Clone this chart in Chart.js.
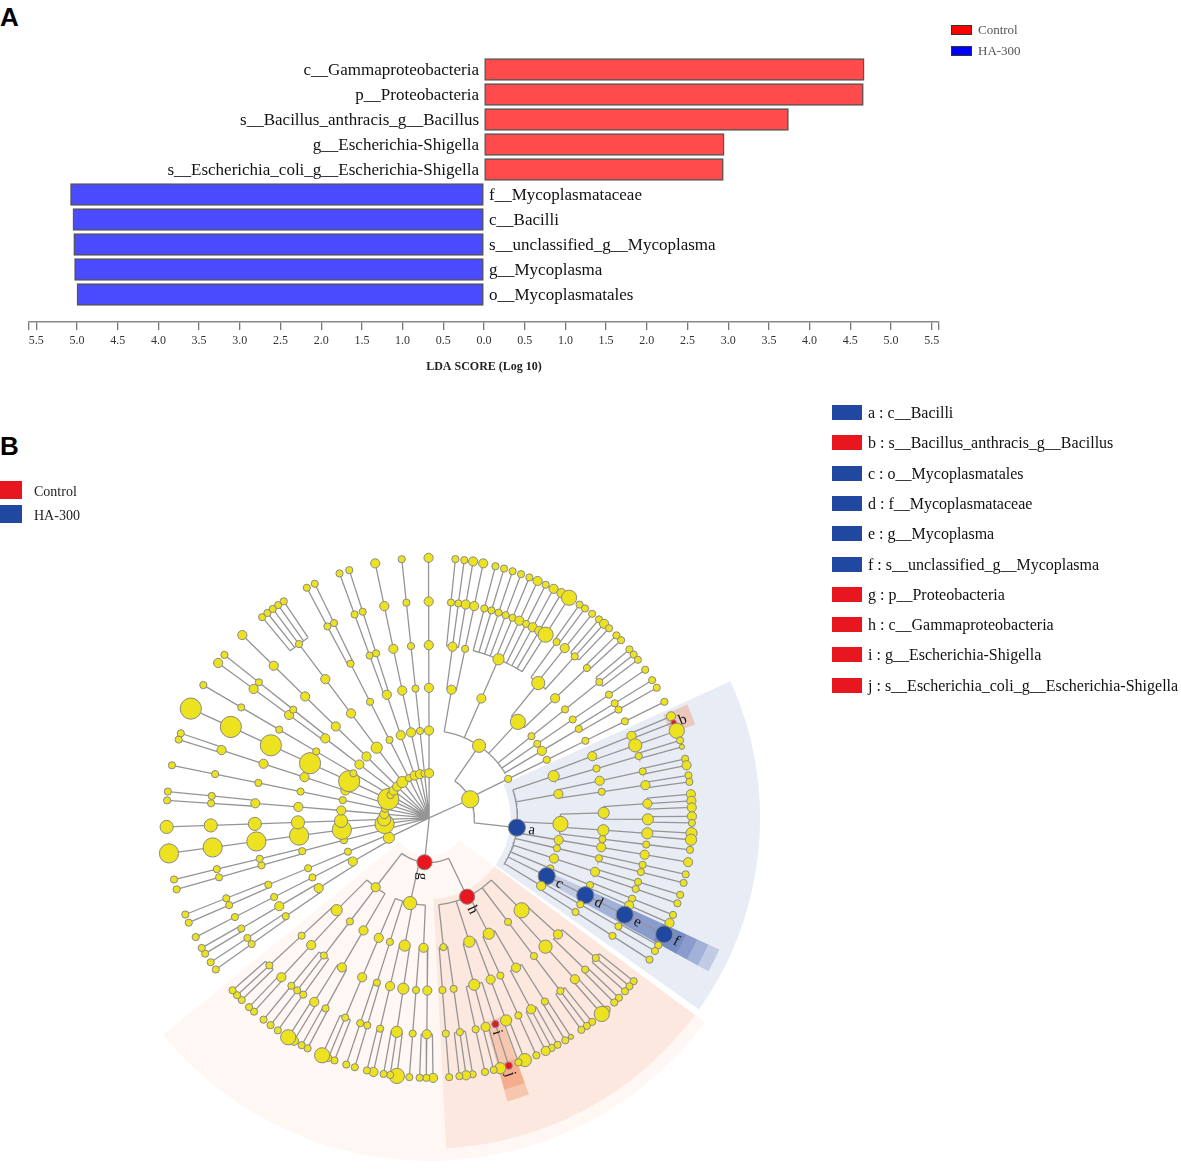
<!DOCTYPE html>
<html>
<head>
<meta charset="utf-8">
<script src="https://cdn.jsdelivr.net/npm/chart.js@4.4.0/dist/chart.umd.min.js"></script>
<style>
  body { margin: 0; background: #fff; width: 1181px; height: 1171px; position: relative; overflow: hidden; font-family: "Liberation Serif", serif; }
  .panel { position: absolute; font: bold 26px "Liberation Sans", Arial, sans-serif; color: #000; }
  .box { position: absolute; }
  .lgA { position: absolute; font-size: 13px; color: #555; display: flex; align-items: center; }
  .lgA span { display: inline-block; width: 19px; height: 8px; border: 1px solid #333; margin-right: 6px; }
  .lgB { position: absolute; font-size: 14px; color: #222; }
  .lgB span { position: absolute; left: 0; width: 22px; height: 18px; }
  .mk { position: absolute; left: 832px; font-size: 16px; color: #111; white-space: nowrap; height: 16px; line-height: 16px; }
  .mk span { display: inline-block; width: 30px; height: 15px; vertical-align: -2px; margin-right: 6px; }
</style>
</head>
<body>
<div class="panel" style="left:0;top:2px">A</div>
<div class="panel" style="left:0;top:431px">B</div>

<div class="box" style="left:0;top:0;width:1181px;height:390px"><canvas id="lda"></canvas></div>
<div class="box" style="left:0;top:390px;width:1181px;height:781px"><canvas id="clado"></canvas></div>

<div id="legendA"></div>
<div id="legendB"></div>
<div id="markers"></div>

<script>
// ---- panel A data (LDA scores) ----
const ldaLabels = ['c__Gammaproteobacteria', 'p__Proteobacteria', 's__Bacillus_anthracis_g__Bacillus',
  'g__Escherichia-Shigella', 's__Escherichia_coli_g__Escherichia-Shigella', 'f__Mycoplasmataceae',
  'c__Bacilli', 's__unclassified_g__Mycoplasma', 'g__Mycoplasma', 'o__Mycoplasmatales'];
const ldaScores = [4.67, 4.66, 3.74, 2.95, 2.94, 5.08, 5.05, 5.04, 5.03, 5.00];
const ldaGroups = ['Control', 'Control', 'Control', 'Control', 'Control', 'HA-300', 'HA-300', 'HA-300', 'HA-300', 'HA-300'];
const ldaTicks = [-5.5, -5.0, -4.5, -4.0, -3.5, -3.0, -2.5, -2.0, -1.5, -1.0, -0.5, 0.0,
  0.5, 1.0, 1.5, 2.0, 2.5, 3.0, 3.5, 4.0, 4.5, 5.0, 5.5];
const groups = ['Control', 'HA-300'];
const barColors = { 'Control': '#ff4b4b', 'HA-300': '#4a4aff' };
const legendColors = { 'Control': '#ff0000', 'HA-300': '#0000ff' };

// ---- panel B data (cladogram) ----
// clade notation: size digit, optional {tag}, optional (children); leaves run on to species level
const phyla = [
  `7( 5( 3(3(2,2,3),2(3)), 3(4(2,2,2,2,2,3,2,3,3,6)), 6(5(2(2,2),3(2),2(2,3,2)),3(2(2,2))), 2(2(2(2,2,2))), 2(2), 3(2(2,2)) ),
     2,
     7{a}( 4(3(3(3,1{b}),5(6)),2(2(2,1))), 3(3(2(2,3)),2(3(2,2))), 6(4(3(3,3,3),4(3,2)),4(4(4,4)),2(2)),
           3, 2(2(2,2)), 3(3(2,2)), 2(2(2,3)), 7{c}(7{d}(7{e}(7{f}))), 3(2(2(2,2)),2(2)) ) )`,
  `6{g}( 6{h}( 6(3(2(2,2,2),2(2,2)),5(3(2,6))), 2(2(2(2,2,2))), 4(3(2(1,2),3(2,2,3)),2(2)),
               4(3(4(5,2)),4(2{i}(2{j}),3(4,2),2(2))), 2(2(2(2,3,2)),2(2)) ),
         5( 3(3(3(3,2,2)),2(2)), 4(4(4(6,2,2)),3(2(3,2))), 2(2(2,2)), 3(3(2(2,2,6))) ),
         3( 3(3(2(2,2),3(3,6))), 2(2(2,2,2)), 4(3(3(2,2)),2(2(2,2,2))) ) )`,
  `4(3(3(2(2,2),3(2(2,2))),2(2)),2(2(2(2,2))))`,
  `2(2(2(2,2)))`,
  `8`,
  `5`,
  `3(3(3(3(2,2))))`,
  `2`,
  `3(3(3(3(3(2,2)))))`,
  `9`,
  `2`,
  `3(3(3(3,2)))`,
  `3`,
  `4(4(3(3(2(2,2,2,2,2)))))`,
  `2(2(2(2(2,2))))`,
  `3(3(3(2,2)))`,
  `3`,
  `2`,
  `3`
];
const markerTags = ['a', 'b', 'c', 'd', 'e', 'f', 'g', 'h', 'i', 'j'];
const markerNames = ['c__Bacilli', 's__Bacillus_anthracis_g__Bacillus', 'o__Mycoplasmatales', 'f__Mycoplasmataceae',
  'g__Mycoplasma', 's__unclassified_g__Mycoplasma', 'p__Proteobacteria', 'c__Gammaproteobacteria',
  'g__Escherichia-Shigella', 's__Escherichia_coli_g__Escherichia-Shigella'];
const markerGroups = ['HA-300', 'Control', 'HA-300', 'HA-300', 'HA-300', 'HA-300', 'Control', 'Control', 'Control', 'Control'];
const cladeColors = { 'Control': '#e8161f', 'HA-300': '#2148a0' };
const shadeRGB = { 'Control': '235,125,70', 'HA-300': '33,72,160' };

const ringR = [0, 46, 90, 134, 178, 223, 268];
const gapWeight = [3.0, 1.8, 1.4, 1.15, 1.0, 0.75];
const anchorTag = 'f', anchorDeg = 26.6;
const serif = '"Liberation Serif", "Times New Roman", serif';

// ---------------- panel A ----------------
const barLabels = {
  id: 'barLabels',
  afterDatasetsDraw(chart) {
    const ctx = chart.ctx, meta = chart.getDatasetMeta(0);
    const x0 = chart.scales.x.getPixelForValue(0);
    ctx.save();
    ctx.font = '17px ' + serif;
    ctx.fillStyle = '#111';
    ctx.textBaseline = 'middle';
    meta.data.forEach((bar, i) => {
      const left = ldaGroups[i] === 'Control';
      ctx.textAlign = left ? 'right' : 'left';
      ctx.fillText(ldaLabels[i], left ? x0 - 5 : x0 + 5, bar.y + 1);
    });
    ctx.restore();
  }
};

new Chart(document.getElementById('lda'), {
  type: 'bar',
  data: {
    datasets: [{
      data: ldaScores.map((v, i) => ({ y: i, x: ldaGroups[i] === 'Control' ? v : -v })),
      backgroundColor: ldaGroups.map(g => barColors[g]),
      borderColor: '#555',
      borderWidth: 1.5,
      borderSkipped: false,
      barThickness: 22
    }]
  },
  options: {
    indexAxis: 'y',
    responsive: true,
    maintainAspectRatio: false,
    animation: false,
    events: [],
    layout: { padding: { left: 29, right: 242, top: 57, bottom: 8 } },
    plugins: { legend: { display: false }, tooltip: { enabled: false } },
    scales: {
      y: { type: 'linear', display: false, offset: false, min: -0.5, max: 10.1, reverse: true },
      x: {
        type: 'linear', min: -5.59, max: 5.59,
        afterBuildTicks: s => { s.ticks = [-5.59].concat(ldaTicks, [5.59]).map(v => ({ value: v })); },
        afterFit: s => { s.height = 60; },
        ticks: {
          autoSkip: false, maxRotation: 0, padding: 4, color: '#333',
          font: { family: serif, size: 12 },
          callback: v => Math.abs(v) > 5.56 ? '' : Math.abs(v).toFixed(1)
        },
        grid: { drawOnChartArea: false, drawTicks: true, tickLength: 8, color: '#777', lineWidth: 1.3 },
        border: { display: true, color: '#888', width: 1.5 },
        title: {
          display: true, text: 'LDA SCORE (Log 10)', color: '#222',
          font: { family: serif, size: 12, weight: 'bold' }, padding: { top: 4, bottom: 8 }
        }
      }
    }
  },
  plugins: [barLabels]
});

document.getElementById('legendA').innerHTML = groups.map((g, i) =>
  `<div class="lgA" style="left:951px;top:${22 + i * 21}px"><span style="background:${legendColors[g]}"></span>${g}</div>`).join('');

// ---------------- panel B ----------------
function parseClade(src) {
  const s = src.replace(/\s+/g, '');
  let i = 0;
  function node() {
    const n = { size: +s[i++], kids: [] };
    if (s[i] === '{') { n.tag = s[i + 1]; i += 3; }
    if (s[i] === '(') {
      i++;
      n.kids.push(node());
      while (s[i] === ',') { i++; n.kids.push(node()); }
      i++;
    } else if (s[i] === '.') { n.stop = true; i++; }
    return n;
  }
  return node();
}

const root = { size: 0, kids: phyla.map(parseClade) };
(function extend(n, d) {
  n.depth = d;
  if (!n.kids.length && !n.stop && d < 6) n.kids = [{ size: n.size, kids: [] }];
  n.kids.forEach(k => extend(k, d + 1));
})(root, 0);

// leaf angles: spacing grows with the rank at which neighbouring leaves split
const leaves = [];
let lca = 0;
(function walk(n) {
  if (!n.kids.length) { leaves.push({ n, gap: gapWeight[lca] }); return; }
  n.kids.forEach((k, i) => { if (i > 0) lca = n.depth; walk(k); });
})(root);
leaves[0].gap = gapWeight[0];
const unit = 360 / leaves.reduce((s, l) => s + l.gap, 0);
let acc = 0;
leaves.forEach((l, i) => {
  if (i > 0) acc += l.gap * unit;
  l.n.ang = acc;
  l.n.gB = l.gap * unit;
  l.n.gA = leaves[(i + 1) % leaves.length].gap * unit;
});
const allNodes = [];
(function place(n) {
  if (n.depth > 0) allNodes.push(n);
  if (!n.kids.length) { n.a0 = n.a1 = n.ang; n.nLeaf = 1; return; }
  n.kids.forEach(place);
  const f = n.kids[0], l = n.kids[n.kids.length - 1];
  n.ang = (f.ang + l.ang) / 2;
  n.a0 = f.a0; n.a1 = l.a1; n.gB = f.gB; n.gA = l.gA;
  n.nLeaf = n.kids.reduce((s, k) => s + k.nLeaf, 0);
})(root);
const byTag = {};
allNodes.forEach(n => { if (n.tag) byTag[n.tag] = n; });
const rot = anchorDeg - byTag[anchorTag].ang;
[root].concat(allNodes).forEach(n => { n.ang += rot; n.a0 += rot; n.a1 += rot; });

const rad = d => d * Math.PI / 180;
const pt = (r, deg) => ({ x: r * Math.cos(rad(deg)), y: r * Math.sin(rad(deg)) });
const GAP = { x: NaN, y: NaN };

const edgePts = [];
(function edges(n) {
  if (!n.kids.length) return;
  const rp = ringR[n.depth];
  if (n.kids.length > 1 && rp > 0) {
    const s = n.kids[0].ang, e = n.kids[n.kids.length - 1].ang;
    for (let d = s; d < e; d += 1) edgePts.push(pt(rp, d));
    edgePts.push(pt(rp, e), GAP);
  }
  n.kids.forEach(k => {
    edgePts.push(pt(rp, k.ang), pt(ringR[k.depth], k.ang), GAP);
    edges(k);
  });
})(root);

const nodeRadius = n => 1.6 + n.size;
const groupOf = tag => markerGroups[markerTags.indexOf(tag)];

const cladeShade = {
  id: 'cladeShade',
  beforeDatasetsDraw(chart) {
    const { ctx, scales: { x, y } } = chart;
    const cx = x.getPixelForValue(0), cy = y.getPixelForValue(0);
    const k = x.getPixelForValue(1) - cx;
    ctx.save();
    // bigger clades first, narrow bands on top
    markerTags.map(t => byTag[t]).sort((a, b) => a.depth - b.depth).forEach(n => {
      const g = groupOf(n.tag);
      const single = n.nLeaf === 1;
      const p0 = single ? 2.2 : 0.4 * n.gB, p1 = single ? 2.2 : 0.4 * n.gA;
      const r0 = (ringR[n.depth] - 7) * k, r1 = (268 + (7 - n.depth) * 12.5 + 7) * k;
      let alpha = n.nLeaf > 3 ? (n.depth === 1 ? 0.06 : 0.1) : (g === 'Control' ? 0.32 : 0.2);
      if (n.nLeaf > 3 && g === 'Control' && n.depth > 1) alpha = 0.12;
      ctx.fillStyle = `rgba(${shadeRGB[g]},${alpha})`;
      ctx.beginPath();
      ctx.arc(cx, cy, r1, rad(n.a0 - p0), rad(n.a1 + p1));
      ctx.arc(cx, cy, r0, rad(n.a1 + p1), rad(n.a0 - p0), true);
      ctx.closePath();
      ctx.fill();
    });
    ctx.restore();
  },
  afterDatasetsDraw(chart) {
    const { ctx, scales: { x, y } } = chart;
    const k = x.getPixelForValue(1) - x.getPixelForValue(0);
    ctx.save();
    ctx.font = '15px ' + serif;
    ctx.fillStyle = '#111';
    ctx.textBaseline = 'middle';
    ctx.textAlign = 'left';
    markerTags.forEach(t => {
      const n = byTag[t];
      const p = pt(ringR[n.depth] + (nodeRadius(n) + 3) / k, n.ang);
      ctx.save();
      ctx.translate(x.getPixelForValue(p.x), y.getPixelForValue(p.y));
      ctx.rotate(rad(n.ang));
      ctx.fillText(t, 0, 1);
      ctx.restore();
    });
    ctx.restore();
  }
};

const nodePts = allNodes.map(n => pt(ringR[n.depth], n.ang));
new Chart(document.getElementById('clado'), {
  type: 'scatter',
  data: {
    datasets: [
      {
        data: nodePts,
        order: 0,
        pointRadius: allNodes.map(nodeRadius),
        pointBackgroundColor: allNodes.map(n => n.tag ? cladeColors[groupOf(n.tag)] : '#ede21f'),
        pointBorderColor: '#888',
        pointBorderWidth: 1
      },
      {
        data: edgePts,
        order: 1,
        showLine: true,
        spanGaps: false,
        borderColor: '#959595',
        borderWidth: 1.3,
        pointRadius: 0
      }
    ]
  },
  options: {
    responsive: true,
    maintainAspectRatio: false,
    animation: false,
    events: [],
    layout: { padding: 0 },
    plugins: { legend: { display: false }, tooltip: { enabled: false } },
    scales: {
      x: { type: 'linear', display: false, min: -426, max: 755 },
      y: { type: 'linear', display: false, min: -429, max: 352, reverse: true }
    }
  },
  plugins: [cladeShade]
});

document.getElementById('legendB').innerHTML = groups.map((g, i) =>
  `<div class="lgB" style="left:0;top:${481 + i * 24}px;width:120px;height:18px">
     <span style="background:${cladeColors[g]}"></span><div style="position:absolute;left:34px;top:3px;white-space:nowrap">${g}</div></div>`).join('');
document.getElementById('markers').innerHTML = markerTags.map((t, i) =>
  `<div class="mk" style="top:${405 + i * 30.3}px"><span style="background:${cladeColors[markerGroups[i]]}"></span>${t} : ${markerNames[i]}</div>`).join('');
</script>
</body>
</html>
